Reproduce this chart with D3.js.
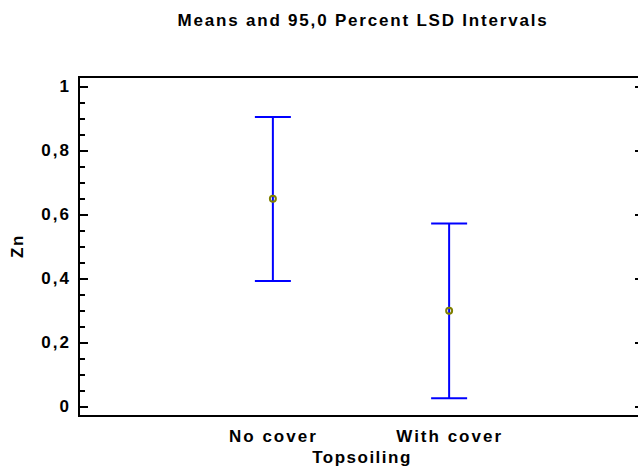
<!DOCTYPE html>
<html>
<head>
<meta charset="utf-8">
<script src="https://cdn.jsdelivr.net/npm/d3@7/dist/d3.min.js"></script>
<style>
  body { margin: 0; background: #fff; }
  svg text { font-family: Arial, "Liberation Sans", sans-serif; font-weight: bold; fill: #000; }
</style>
</head>
<body>
<svg class="plot" width="638" height="468"></svg>
<script>
  // data
  var categories = ["No cover", "With cover"]
  var means = [0.649, 0.299]
  var lower = [0.392, 0.026]
  var upper = [0.905, 0.572]
  var majorTicks = [0, 0.2, 0.4, 0.6, 0.8, 1]
  var minorTicks = d3.range(0, 1.0001, 0.05)

  var width = 638
  var height = 468
  var frame = { left: 79, top: 77, right: 640, bottom: 416 }
  const svg = d3.select("svg.plot")

  const x = d3.scalePoint().domain(categories).range([frame.left, 643]).padding(1.1)
  const y = d3.scaleLinear().domain([0, 1]).range([406.5, 86.5])

  // frame
  svg.append("rect")
    .attr("x", frame.left)
    .attr("y", frame.top)
    .attr("width", frame.right - frame.left)
    .attr("height", frame.bottom - frame.top)
    .attr("fill", "none")
    .attr("stroke", "black")
    .attr("stroke-width", 2)

  // left axis: major ticks with labels, minor ticks without
  let leftMinor = d3.axisLeft(y).tickValues(minorTicks).tickFormat("").tickSize(-6)
  let leftMajor = d3.axisLeft(y).tickValues(majorTicks).tickSize(-9).tickPadding(8)
    .tickFormat(d => d3.format("~g")(d).replace(".", ","))
  svg.append("g")
    .attr("transform", "translate(" + frame.left + ",0)")
    .call(leftMinor)
  svg.append("g")
    .attr("class", "y axis")
    .attr("transform", "translate(" + frame.left + ",0)")
    .call(leftMajor)
  svg.append("g")
    .attr("transform", "translate(" + (frame.right - 1) + ",0)")
    .call(d3.axisRight(y).tickValues(majorTicks).tickFormat("").tickSize(-4))
  svg.selectAll(".domain").remove()
  svg.selectAll(".tick line").attr("stroke", "black").attr("stroke-width", 2)
  svg.selectAll(".y.axis text")
    .attr("font-size", 17)
    .attr("letter-spacing", 2)
    .attr("font-family", "Arial, 'Liberation Sans', sans-serif")
    .attr("font-weight", "bold")

  // category labels
  svg.append("g")
    .attr("transform", "translate(0," + frame.bottom + ")")
    .call(d3.axisBottom(x).tickSize(0))
    .call(g => g.select(".domain").remove())
    .selectAll("text")
    .attr("y", 26)
    .attr("dy", null)
    .attr("font-size", 17)
    .attr("letter-spacing", 2)
    .attr("font-family", "Arial, 'Liberation Sans', sans-serif")
    .attr("font-weight", "bold")

  // titles
  svg.append("text")
    .attr("x", 363)
    .attr("y", 26)
    .attr("text-anchor", "middle")
    .attr("font-size", 17)
    .attr("letter-spacing", 1.8)
    .text("Means and 95,0 Percent LSD Intervals")
  svg.append("text")
    .attr("x", 362)
    .attr("y", 463)
    .attr("text-anchor", "middle")
    .attr("font-size", 17)
    .attr("letter-spacing", 1.5)
    .text("Topsoiling")
  svg.append("text")
    .attr("transform", "translate(23,246) rotate(270)")
    .attr("text-anchor", "middle")
    .attr("font-size", 17)
    .attr("letter-spacing", 1.5)
    .text("Zn")

  // interval bars
  var capHalf = 18
  categories.forEach((c, i) => {
    var g = svg.append("g").attr("stroke", "#0000ff").attr("stroke-width", 2)
    g.append("line")
      .attr("x1", x(c)).attr("x2", x(c))
      .attr("y1", y(lower[i])).attr("y2", y(upper[i]))
    g.append("line")
      .attr("x1", x(c) - capHalf).attr("x2", x(c) + capHalf)
      .attr("y1", y(upper[i])).attr("y2", y(upper[i]))
    g.append("line")
      .attr("x1", x(c) - capHalf).attr("x2", x(c) + capHalf)
      .attr("y1", y(lower[i])).attr("y2", y(lower[i]))
    svg.append("circle")
      .attr("cx", x(c))
      .attr("cy", y(means[i]))
      .attr("r", 3)
      .attr("fill", "none")
      .attr("stroke", "#808000")
      .attr("stroke-width", 2)
  })
</script>
</body>
</html>
